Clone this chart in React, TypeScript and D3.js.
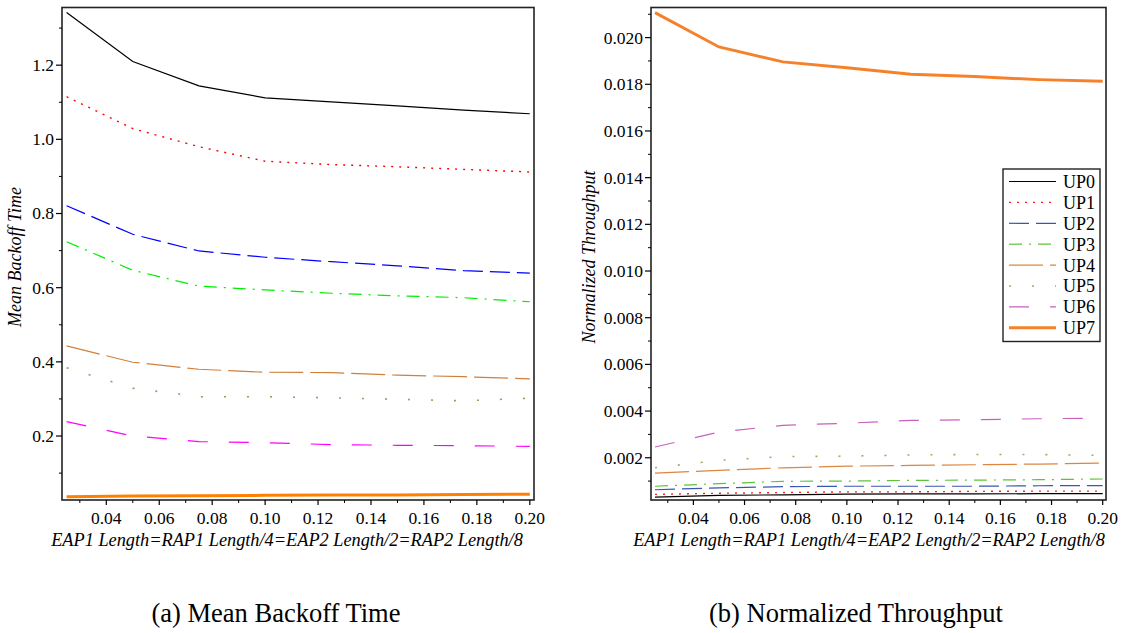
import React from "react";
import * as d3 from "d3";

// ---------- data ----------
const xValues = [0.025, 0.05, 0.075, 0.1, 0.125, 0.15, 0.175, 0.2];
const seriesNames = ["UP0", "UP1", "UP2", "UP3", "UP4", "UP5", "UP6", "UP7"];

const backoffUP0 = [1.342, 1.21, 1.144, 1.112, 1.101, 1.09, 1.079, 1.069];
const backoffUP1 = [1.115, 1.029, 0.98, 0.941, 0.932, 0.926, 0.919, 0.912];
const backoffUP2 = [0.821, 0.744, 0.699, 0.682, 0.67, 0.659, 0.646, 0.639];
const backoffUP3 = [0.724, 0.647, 0.604, 0.594, 0.585, 0.578, 0.573, 0.562];
const backoffUP4 = [0.443, 0.399, 0.38, 0.372, 0.371, 0.364, 0.36, 0.354];
const backoffUP5 = [0.384, 0.329, 0.306, 0.306, 0.303, 0.299, 0.295, 0.302];
const backoffUP6 = [0.239, 0.2, 0.185, 0.182, 0.177, 0.175, 0.174, 0.172];
const backoffUP7 = [0.036, 0.038, 0.039, 0.04, 0.041, 0.041, 0.042, 0.043];

const thrUP0 = [0.00031, 0.00039, 0.00041, 0.00044, 0.00045, 0.00045, 0.00046, 0.00046];
const thrUP1 = [0.00043, 0.00048, 0.00051, 0.00054, 0.00054, 0.00056, 0.00057, 0.00057];
const thrUP2 = [0.00063, 0.00071, 0.00076, 0.00078, 0.00078, 0.00078, 0.0008, 0.00081];
const thrUP3 = [0.00078, 0.00089, 0.00099, 0.001, 0.00103, 0.00104, 0.00106, 0.00109];
const thrUP4 = [0.00134, 0.00146, 0.00157, 0.00164, 0.00167, 0.0017, 0.00173, 0.00177];
const thrUP5 = [0.00157, 0.00189, 0.00205, 0.00207, 0.00212, 0.00214, 0.00214, 0.0021];
const thrUP6 = [0.00246, 0.0031, 0.00339, 0.00348, 0.0036, 0.00363, 0.00367, 0.0037];
const thrUP7 = [0.02107, 0.0196, 0.01896, 0.01871, 0.01843, 0.01833, 0.0182, 0.01813];

const xMajorTicks = [0.04, 0.06, 0.08, 0.1, 0.12, 0.14, 0.16, 0.18, 0.2];
const xMinorTicks = [0.03, 0.05, 0.07, 0.09, 0.11, 0.13, 0.15, 0.17, 0.19];
const backoffMajorTicks = [0.2, 0.4, 0.6, 0.8, 1.0, 1.2];
const backoffMinorTicks = [0.1, 0.3, 0.5, 0.7, 0.9, 1.1, 1.3];
const thrMajorTicks = [0.002, 0.004, 0.006, 0.008, 0.01, 0.012, 0.014, 0.016, 0.018, 0.02];
const thrMinorTicks = [0.001, 0.003, 0.005, 0.007, 0.009, 0.011, 0.013, 0.015, 0.017, 0.019, 0.021];

const xLabel = "EAP1 Length=RAP1 Length/4=EAP2 Length/2=RAP2 Length/8";

// ---------- styles ----------
const leftColors = ["#000000", "#ff0000", "#0000ff", "#00ee00", "#d0803c", "#9c9c60", "#ff00ff", "#ff8000"];
const rightColors = ["#000000", "#ff2020", "#3a56b0", "#5ec23a", "#dc8640", "#a8a860", "#c860c0", "#f5822a"];
const dashes = ["", "2,6", "20,7", "13,7,2,7", "34,7", "2,21", "20,21", ""];
const widths = [1.2, 1.4, 1.2, 1.2, 1.2, 1.6, 1.2, 3];

const FONT = '"Liberation Serif", "DejaVu Serif", serif';

type PanelProps = {
  left: number;
  right: number;
  top: number;
  bottom: number;
  xRange: [number, number];
  yDomain: [number, number];
  series: number[][];
  colors: string[];
  yMajor: number[];
  yMinor: number[];
  yFmt: (v: number) => string;
  yLabel: string;
  yLabelX: number;
  yLabelY: number;
  xLabelX: number;
  caption: string;
  captionX: number;
  legend?: boolean;
};

function Panel(p: PanelProps) {
  const x = d3.scaleLinear().domain([xValues[0], xValues[xValues.length - 1]]).range(p.xRange);
  const y = d3.scaleLinear().domain(p.yDomain).range([p.bottom, p.top]);
  const line = d3
    .line<number>()
    .x((_, i) => x(xValues[i]))
    .y((d) => y(d));
  const xFmt = d3.format(".2f");

  const legendX = 1003;
  const legendY = 169;
  const rowH = 20.9;

  return (
    <g style={{ fontFamily: FONT }}>
      {p.series.map((s, i) => (
        <path
          key={i}
          d={line(s) || ""}
          fill="none"
          stroke={p.colors[i]}
          strokeWidth={widths[i]}
          strokeDasharray={dashes[i] || undefined}
        />
      ))}
      <rect
        x={p.left}
        y={p.top}
        width={p.right - p.left}
        height={p.bottom - p.top}
        fill="none"
        stroke="#222"
        strokeWidth={1.6}
      />
      {xMajorTicks.map((t) => (
        <g key={"xm" + t}>
          <line x1={x(t)} x2={x(t)} y1={p.bottom} y2={p.bottom + 5} stroke="#000" strokeWidth={1.2} />
          <text x={x(t)} y={523.5} textAnchor="middle" fontSize={17.5}>
            {xFmt(t)}
          </text>
        </g>
      ))}
      {xMinorTicks.map((t) => (
        <line key={"xn" + t} x1={x(t)} x2={x(t)} y1={p.bottom} y2={p.bottom + 3} stroke="#000" strokeWidth={1} />
      ))}
      {p.yMajor.map((t) => (
        <g key={"ym" + t}>
          <line x1={p.left - 6} x2={p.left} y1={y(t)} y2={y(t)} stroke="#000" strokeWidth={1.2} />
          <text x={p.left - 8} y={y(t)} dy="0.34em" textAnchor="end" fontSize={17.5}>
            {p.yFmt(t)}
          </text>
        </g>
      ))}
      {p.yMinor.map((t) => (
        <line key={"yn" + t} x1={p.left - 3} x2={p.left} y1={y(t)} y2={y(t)} stroke="#000" strokeWidth={1} />
      ))}
      <text x={p.xLabelX} y={546} textAnchor="middle" fontStyle="italic" fontSize={18.3}>
        {xLabel}
      </text>
      <text
        transform={`translate(${p.yLabelX},${p.yLabelY}) rotate(-90)`}
        textAnchor="middle"
        fontStyle="italic"
        fontSize={18}
      >
        {p.yLabel}
      </text>
      <text x={p.captionX} y={622} textAnchor="middle" fontSize={26.5}>
        {p.caption}
      </text>
      {p.legend && (
        <g>
          <rect x={legendX} y={legendY} width={97} height={172.5} fill="#fff" stroke="#222" strokeWidth={1.4} />
          {seriesNames.map((n, i) => {
            const cy = legendY + 12.5 + i * rowH;
            return (
              <g key={n}>
                <line
                  x1={legendX + 6}
                  x2={legendX + 53}
                  y1={cy}
                  y2={cy}
                  stroke={p.colors[i]}
                  strokeWidth={widths[i]}
                  strokeDasharray={dashes[i] || undefined}
                />
                <text x={legendX + 60} y={cy} dy="0.36em" fontSize={18}>
                  {n}
                </text>
              </g>
            );
          })}
        </g>
      )}
    </g>
  );
}

export default function App() {
  const backoff = [backoffUP0, backoffUP1, backoffUP2, backoffUP3, backoffUP4, backoffUP5, backoffUP6, backoffUP7];
  const thr = [thrUP0, thrUP1, thrUP2, thrUP3, thrUP4, thrUP5, thrUP6, thrUP7];
  return (
    <svg width={1127} height={633} style={{ position: "absolute", left: 0, top: 0, background: "#fff" }}>
      <Panel
        left={62}
        right={534}
        top={7.5}
        bottom={500}
        xRange={[66.6, 529.8]}
        yDomain={[0.0275, 1.3555]}
        series={backoff}
        colors={leftColors}
        yMajor={backoffMajorTicks}
        yMinor={backoffMinorTicks}
        yFmt={d3.format(".1f")}
        yLabel="Mean Backoff Time"
        yLabelX={21}
        yLabelY={257}
        xLabelX={287}
        caption="(a)  Mean Backoff Time"
        captionX={276}
      />
      <Panel
        left={651}
        right={1106}
        top={7.5}
        bottom={500}
        xRange={[655, 1102.7]}
        yDomain={[0.00019, 0.02129]}
        series={thr}
        colors={rightColors}
        yMajor={thrMajorTicks}
        yMinor={thrMinorTicks}
        yFmt={d3.format(".3f")}
        yLabel="Normalized Throughput"
        yLabelX={595}
        yLabelY={257}
        xLabelX={869}
        caption="(b)  Normalized Throughput"
        captionX={856}
        legend
      />
    </svg>
  );
}
